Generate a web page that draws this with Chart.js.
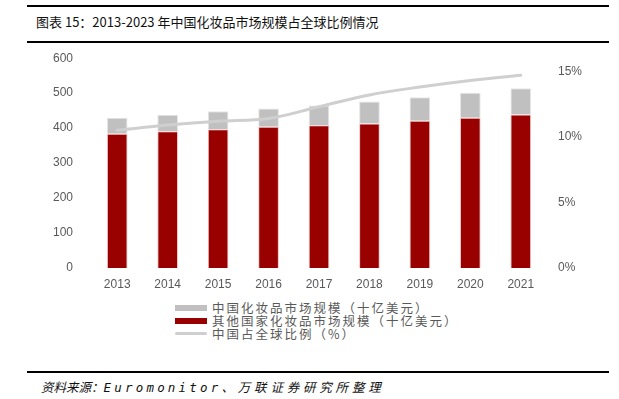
<!DOCTYPE html>
<html>
<head>
<meta charset="utf-8">
<script src="https://cdn.jsdelivr.net/npm/chart.js@4/dist/chart.umd.min.js"></script>
<style>
  body { margin: 0; width: 619px; height: 399px; background: #fff; position: relative; overflow: hidden; font-family: "Noto Sans CJK SC", sans-serif; }
  .rule { position: absolute; left: 27px; width: 582px; height: 2px; background: #000; }
  .title { position: absolute; left: 36px; top: 13px; font-size: 13px; color: #111; line-height: 18px; white-space: nowrap; }
  .chart-box { position: absolute; left: 0; top: 32px; width: 619px; height: 263px; }
  .legend { position: absolute; left: 175px; top: 301px; font-size: 12.5px; color: #595959; letter-spacing: 2px; }
  .legend-row { height: 13px; line-height: 13px; display: flex; align-items: center; white-space: nowrap; }
  .legend-mark { width: 32px; margin-right: 5px; }
  .source { position: absolute; left: 41px; top: 378px; font-size: 12.5px; font-style: italic; color: #111; line-height: 18px; white-space: nowrap; }
  .source .en { font-family: "DejaVu Sans Mono", monospace; letter-spacing: 3.2px; }
  .source .tail { letter-spacing: 3.8px; }
</style>
</head>
<body>
<div class="rule" style="top:5px"></div>
<div class="title">图表 15：2013-2023 年中国化妆品市场规模占全球比例情况</div>
<div class="rule" style="top:41px"></div>
<div class="chart-box"><canvas id="myChart"></canvas></div>
<div class="legend" id="legend"></div>
<div class="rule" style="top:371px"></div>
<div class="source">资料来源：<span class="en">Euromonitor</span><span class="tail">、万联证券研究所整理</span></div>
<script>
const categories = ['2013', '2014', '2015', '2016', '2017', '2018', '2019', '2020', '2021'];
const chinaMarket = [46, 47, 51, 52, 57, 63, 67, 71, 75];
const otherMarket = [384, 391, 397, 404, 408, 413, 421, 430, 439];
const chinaShare = [10.5, 10.9, 11.2, 11.4, 12.3, 13.2, 13.8, 14.3, 14.7];
const leftTicks = [0, 100, 200, 300, 400, 500, 600];
const rightTicks = [0, 5, 10, 15];

const tickFont = { family: '"Liberation Sans", Arial, sans-serif', size: 12 };
const tickColor = '#595959';

const ctx = document.getElementById('myChart').getContext('2d');

const myChart = new Chart(ctx, {
    type: 'bar',
    data: {
        labels: categories,
        datasets: [{
            type: 'line',
            label: '中国占全球比例（%）',
            data: chinaShare,
            yAxisID: 'y1',
            borderColor: '#cfcfcf',
            backgroundColor: '#cfcfcf',
            borderWidth: 3,
            pointRadius: 0,
            tension: 0.35,
            borderCapStyle: 'round'
        }, {
            label: '其他国家化妆品市场规模（十亿美元）',
            data: otherMarket,
            yAxisID: 'y',
            backgroundColor: '#990000',
            borderColor: '#f2c4c4',
            borderWidth: 1
        }, {
            label: '中国化妆品市场规模（十亿美元）',
            data: chinaMarket,
            yAxisID: 'y',
            backgroundColor: '#c0c0c0',
            borderColor: '#e6e6e6',
            borderWidth: 1
        }]
    },
    options: {
        responsive: true,
        maintainAspectRatio: false,
        animation: false,
        layout: { padding: { top: 12, left: 0, right: 0, bottom: 0 } },
        datasets: {
            bar: { categoryPercentage: 1, barPercentage: 0.41 }
        },
        plugins: {
            legend: { display: false },
            tooltip: { enabled: false }
        },
        scales: {
            x: {
                stacked: true,
                grid: { display: false, drawTicks: false },
                border: { display: false },
                ticks: { color: tickColor, font: tickFont, padding: 9 },
                afterFit: (scale) => { scale.height = 27; }
            },
            y: {
                stacked: true,
                position: 'left',
                min: 0,
                max: 600,
                grid: { display: false, drawTicks: false },
                border: { display: false },
                ticks: { color: tickColor, font: tickFont, padding: 19 },
                afterBuildTicks: (scale) => { scale.ticks = leftTicks.map(v => ({ value: v })); },
                afterFit: (scale) => { scale.width = 92; }
            },
            y1: {
                position: 'right',
                min: 0,
                max: 16,
                grid: { display: false, drawTicks: false },
                border: { display: false },
                ticks: {
                    color: tickColor,
                    font: tickFont,
                    padding: 12,
                    callback: (v) => v + '%'
                },
                afterBuildTicks: (scale) => { scale.ticks = rightTicks.map(v => ({ value: v })); },
                afterFit: (scale) => { scale.width = 73; }
            }
        }
    }
});

// legend in the reference's order: grey bar, red bar, line
const legendOrder = [2, 1, 0];
let legendHtml = '';
for (let i of legendOrder) {
    const ds = myChart.data.datasets[i];
    let mark;
    if (ds.type === 'line') {
        mark = `<span class="legend-mark" style="height:3px;border-radius:2px;background:${ds.borderColor}"></span>`;
    } else {
        mark = `<span class="legend-mark" style="height:6px;background:${ds.backgroundColor}"></span>`;
    }
    legendHtml += `<div class="legend-row">${mark}<span>${ds.label}</span></div>`;
}
document.getElementById('legend').innerHTML = legendHtml;
</script>
</body>
</html>
